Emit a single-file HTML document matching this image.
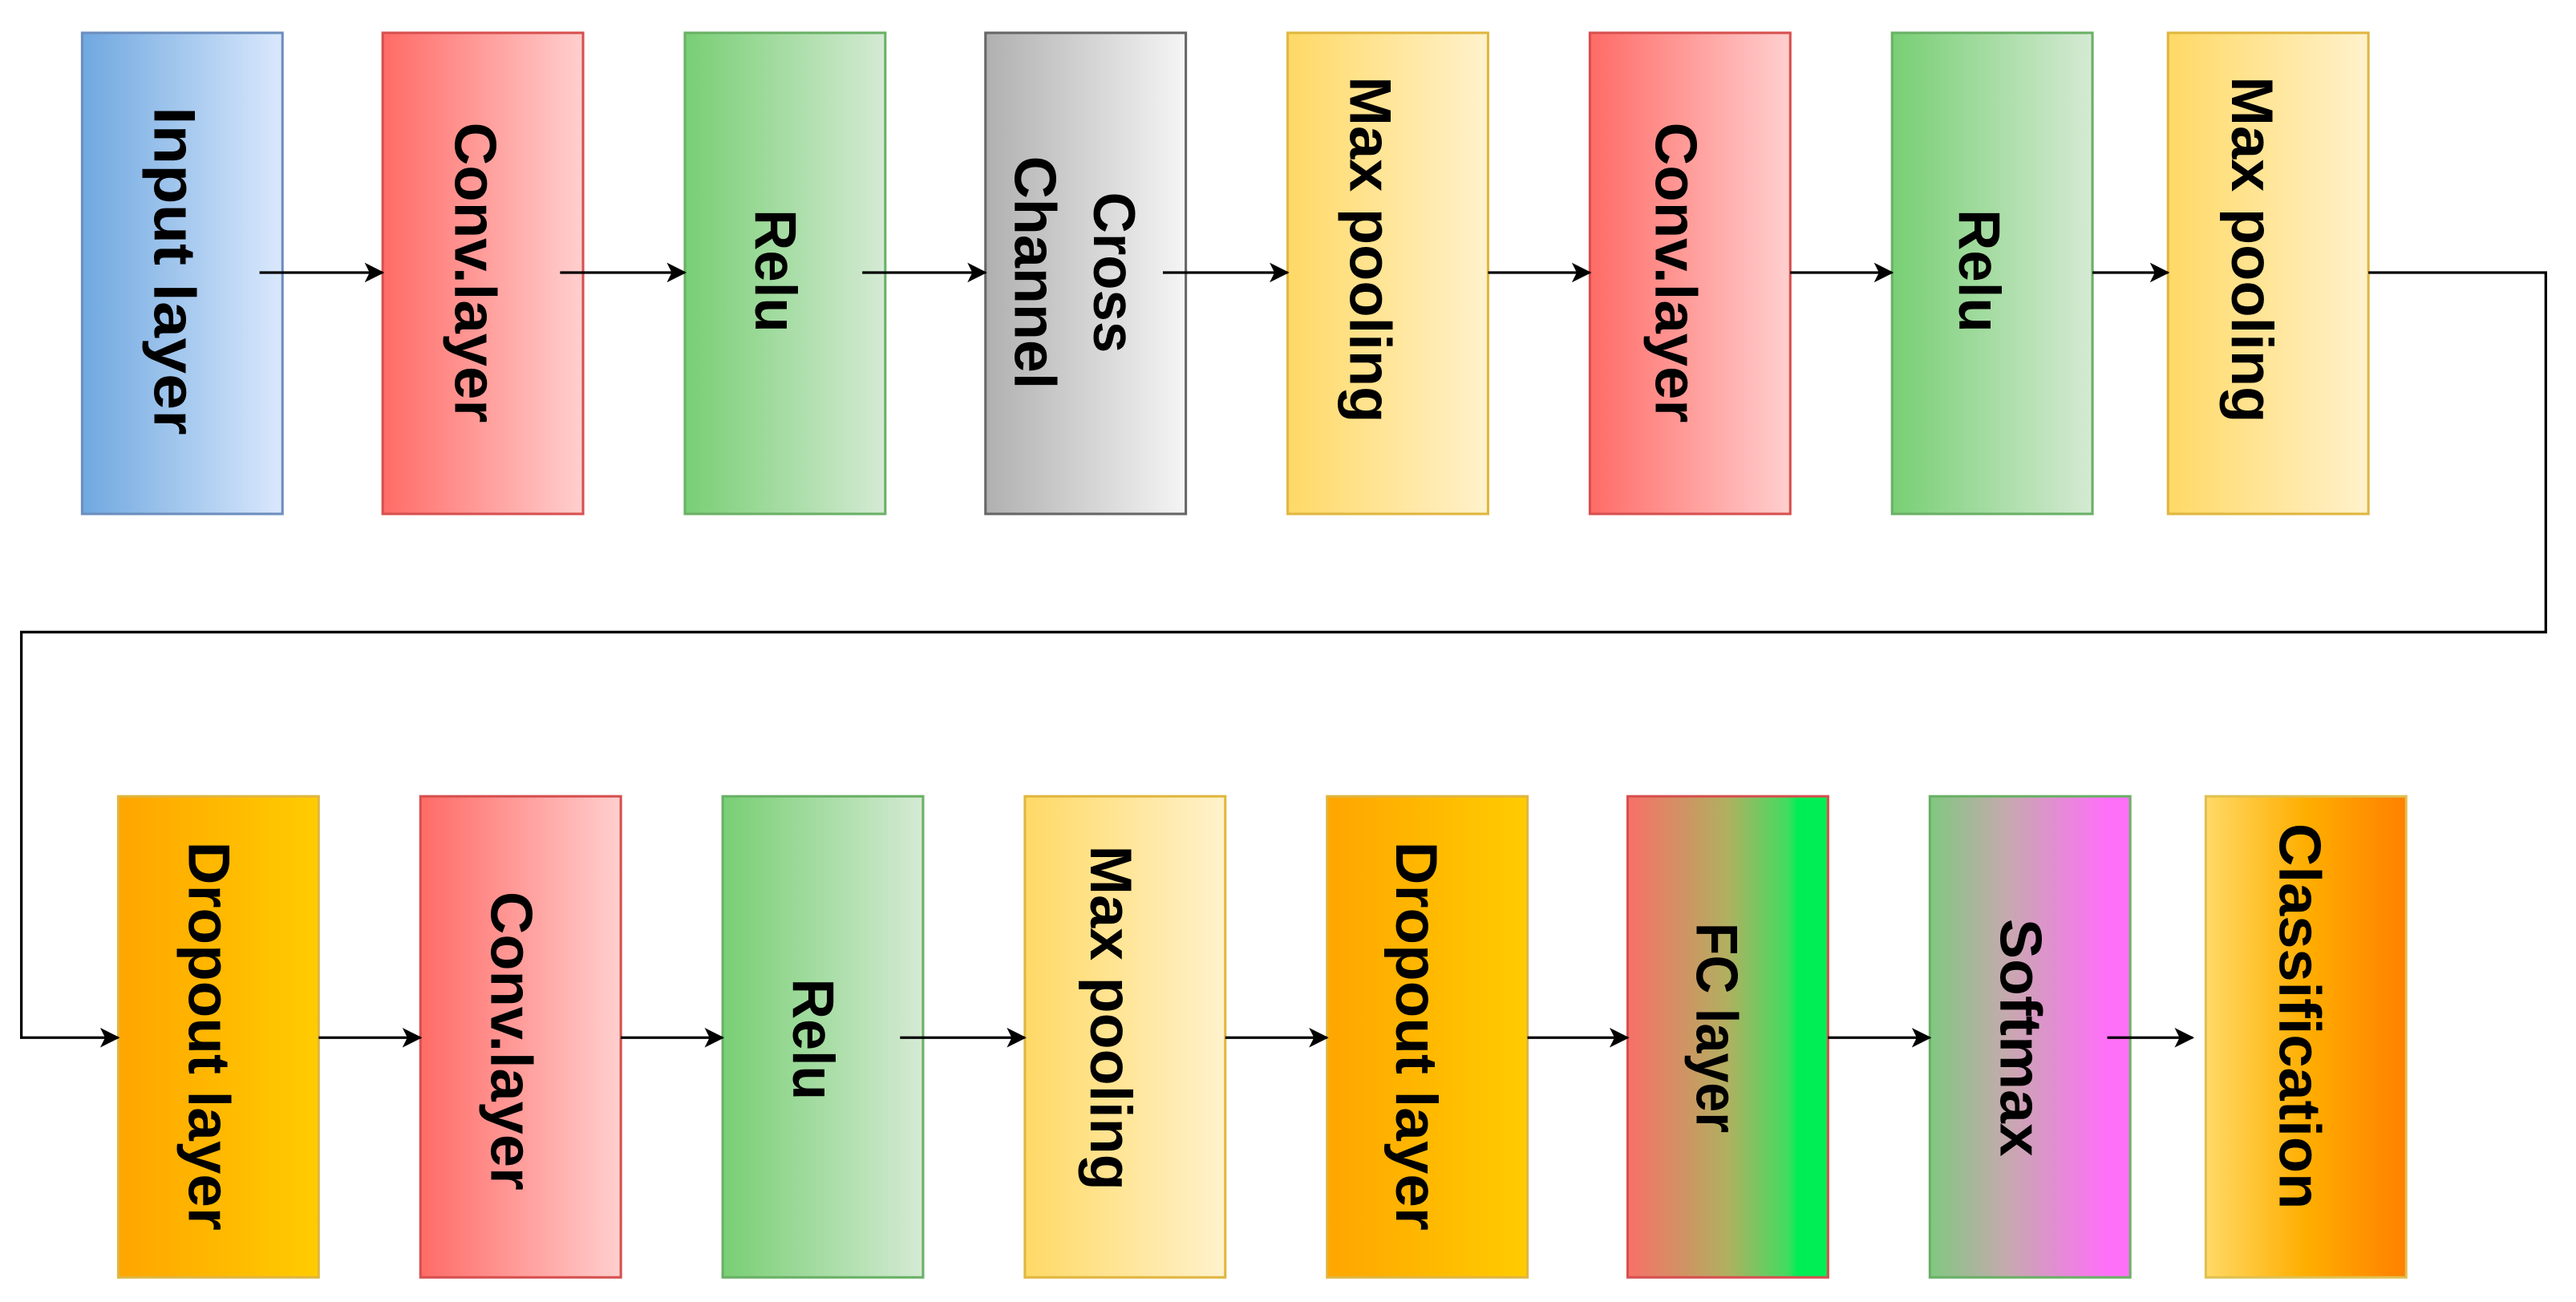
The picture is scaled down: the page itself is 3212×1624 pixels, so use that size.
<!DOCTYPE html>
<html><head><meta charset="utf-8"><style>
html,body{margin:0;padding:0;background:#fff;}
svg{display:block;}
text{font-family:"Liberation Sans",Arial,sans-serif;font-weight:bold;fill:#000;}
</style></head><body>
<svg width="3212" height="1624" viewBox="0 0 1568.4 793" preserveAspectRatio="none" xmlns="http://www.w3.org/2000/svg">
<defs>
<linearGradient id="gB"><stop offset="0" stop-color="#6fa8e0"/><stop offset="1" stop-color="#dae8fc"/></linearGradient>
<linearGradient id="gR"><stop offset="0" stop-color="#ff6b66"/><stop offset="1" stop-color="#ffcfcf"/></linearGradient>
<linearGradient id="gG"><stop offset="0" stop-color="#78cf74"/><stop offset="1" stop-color="#d5ead4"/></linearGradient>
<linearGradient id="gK"><stop offset="0" stop-color="#b0b0b0"/><stop offset="1" stop-color="#f5f5f5"/></linearGradient>
<linearGradient id="gY"><stop offset="0" stop-color="#ffd966"/><stop offset="1" stop-color="#fff2cc"/></linearGradient>
<linearGradient id="gD"><stop offset="0" stop-color="#ffa500"/><stop offset="1" stop-color="#ffcc00"/></linearGradient>
<linearGradient id="gF"><stop offset="0" stop-color="#f87068"/><stop offset="0.5" stop-color="#b0b060"/><stop offset="0.8" stop-color="#40dd60"/><stop offset="0.85" stop-color="#00ee55"/><stop offset="1" stop-color="#00ee55"/></linearGradient>
<linearGradient id="gS"><stop offset="0" stop-color="#80c880"/><stop offset="0.4" stop-color="#c8a8b0"/><stop offset="0.88" stop-color="#ff70f8"/><stop offset="1" stop-color="#ff70f8"/></linearGradient>
<linearGradient id="gC"><stop offset="0" stop-color="#ffd966"/><stop offset="0.5" stop-color="#ffae00"/><stop offset="1" stop-color="#ff8000"/></linearGradient>
<marker id="ar" viewBox="0 0 12 12" refX="11" refY="6" markerWidth="12" markerHeight="12" markerUnits="userSpaceOnUse" orient="auto">
<path d="M0,0 L12,6 L0,12 L3,6 Z" fill="#000"/></marker>
</defs>
<g stroke-width="1.5">
<rect x="50" y="20" width="122" height="293" fill="url(#gB)" stroke="#6c8ebf"/>
<rect x="233" y="20" width="122" height="293" fill="url(#gR)" stroke="#d6504f"/>
<rect x="417" y="20" width="122" height="293" fill="url(#gG)" stroke="#6ab066"/>
<rect x="600" y="20" width="122" height="293" fill="url(#gK)" stroke="#666"/>
<rect x="784" y="20" width="122" height="293" fill="url(#gY)" stroke="#e0b640"/>
<rect x="968" y="20" width="122" height="293" fill="url(#gR)" stroke="#d6504f"/>
<rect x="1152" y="20" width="122" height="293" fill="url(#gG)" stroke="#6ab066"/>
<rect x="1320" y="20" width="122" height="293" fill="url(#gY)" stroke="#e0b640"/>

<rect x="72" y="485" width="122" height="293" fill="url(#gD)" stroke="#e0b640"/>
<rect x="256" y="485" width="122" height="293" fill="url(#gR)" stroke="#d6504f"/>
<rect x="440" y="485" width="122" height="293" fill="url(#gG)" stroke="#6ab066"/>
<rect x="624" y="485" width="122" height="293" fill="url(#gY)" stroke="#e0b640"/>
<rect x="808" y="485" width="122" height="293" fill="url(#gD)" stroke="#e0b640"/>
<rect x="991" y="485" width="122" height="293" fill="url(#gF)" stroke="#d6504f"/>
<rect x="1175" y="485" width="122" height="293" fill="url(#gS)" stroke="#6ab066"/>
<rect x="1343" y="485" width="122" height="293" fill="url(#gC)" stroke="#e0c050"/>
</g>
<g stroke="#000" stroke-width="1.6" fill="none" marker-end="url(#ar)">
<line x1="158" y1="166" x2="233" y2="166"/>
<line x1="341" y1="166" x2="417" y2="166"/>
<line x1="525" y1="166" x2="600" y2="166"/>
<line x1="708" y1="166" x2="784" y2="166"/>
<line x1="906" y1="166" x2="968" y2="166"/>
<line x1="1090" y1="166" x2="1152" y2="166"/>
<line x1="1274" y1="166" x2="1320" y2="166"/>
<polyline points="1442,166 1550,166 1550,385 13,385 13,632 72,632"/>
<line x1="194" y1="632" x2="256" y2="632"/>
<line x1="378" y1="632" x2="440" y2="632"/>
<line x1="548" y1="632" x2="624" y2="632"/>
<line x1="746" y1="632" x2="808" y2="632"/>
<line x1="930" y1="632" x2="991" y2="632"/>
<line x1="1113" y1="632" x2="1175" y2="632"/>
<line x1="1283" y1="632" x2="1335" y2="632"/>
</g>
<g font-size="36" text-anchor="middle">
<text transform="translate(107,165) rotate(90)" y="13" textLength="200" lengthAdjust="spacingAndGlyphs">Input layer</text>
<text transform="translate(290,166) rotate(90)" y="13" textLength="183" lengthAdjust="spacingAndGlyphs">Conv.layer</text>
<text transform="translate(473,165) rotate(90)" y="13" textLength="75" lengthAdjust="spacingAndGlyphs">Relu</text>
<text transform="translate(679,166) rotate(90)" y="13" textLength="98" lengthAdjust="spacingAndGlyphs">Cross</text>
<text transform="translate(631,166) rotate(90)" y="13" textLength="142" lengthAdjust="spacingAndGlyphs">Channel</text>
<text transform="translate(835,152) rotate(90)" y="13" textLength="211" lengthAdjust="spacingAndGlyphs">Max pooling</text>
<text transform="translate(1021,166) rotate(90)" y="13" textLength="183" lengthAdjust="spacingAndGlyphs">Conv.layer</text>
<text transform="translate(1206,165) rotate(90)" y="13" textLength="75" lengthAdjust="spacingAndGlyphs">Relu</text>
<text transform="translate(1372,152) rotate(90)" y="13" textLength="211" lengthAdjust="spacingAndGlyphs">Max pooling</text>

<text transform="translate(128,631) rotate(90)" y="13" textLength="237" lengthAdjust="spacingAndGlyphs">Dropout layer</text>
<text transform="translate(312,634) rotate(90)" y="13" textLength="182" lengthAdjust="spacingAndGlyphs">Conv.layer</text>
<text transform="translate(496,633) rotate(90)" y="13" textLength="74" lengthAdjust="spacingAndGlyphs">Relu</text>
<text transform="translate(677,620) rotate(90)" y="13" textLength="210" lengthAdjust="spacingAndGlyphs">Max pooling</text>
<text transform="translate(863,631) rotate(90)" y="13" textLength="237" lengthAdjust="spacingAndGlyphs">Dropout layer</text>
<text transform="translate(1046,626) rotate(90)" y="13" textLength="128" lengthAdjust="spacingAndGlyphs">FC layer</text>
<text transform="translate(1231,632) rotate(90)" y="13" textLength="145" lengthAdjust="spacingAndGlyphs">Softmax</text>
<text transform="translate(1401,619) rotate(90)" y="13" textLength="235" lengthAdjust="spacingAndGlyphs">Classification</text>
</g>
</svg>
</body></html>
